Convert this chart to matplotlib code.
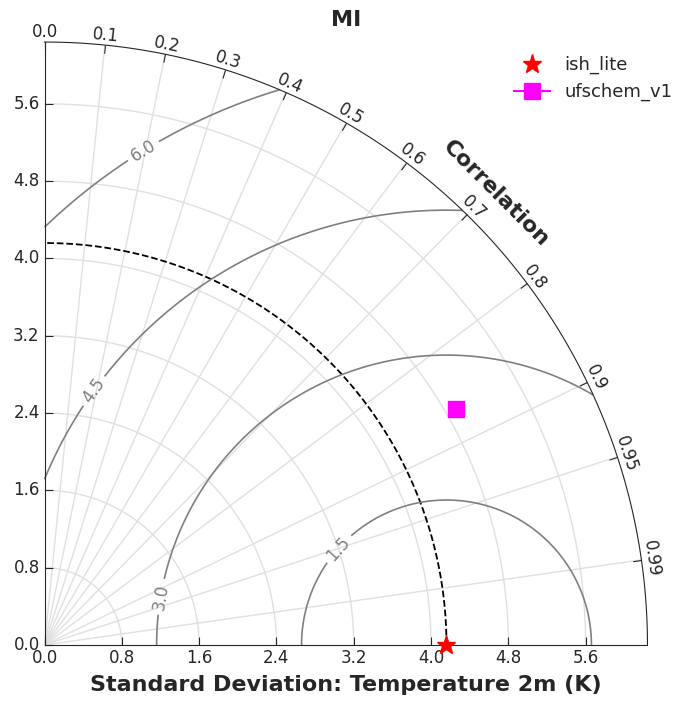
import numpy as np
import matplotlib.pyplot as plt
from matplotlib.projections import PolarAxes
import mpl_toolkits.axisartist.floating_axes as FA
import mpl_toolkits.axisartist.grid_finder as GF

# data
ref_name = "ish_lite"
ref_std = 4.16
model_names = ["ufschem_v1"]
model_std = [4.91]
model_corr = [0.868]
rms_levels = [1.5, 3.0, 4.5, 6.0]
corr_ticks = [0.0, 0.1, 0.2, 0.3, 0.4, 0.5, 0.6, 0.7, 0.8, 0.9, 0.95, 0.99]
std_ticks = [0.0, 0.8, 1.6, 2.4, 3.2, 4.0, 4.8, 5.6]
# (correlation, std) where the rms contour labels sit
rms_label_pos = [(0.197, 5.21), (0.189, 2.68), (0.925, 1.31), (0.950, 3.20)]

txt = '#262626'
smax = 1.5 * ref_std

tr = PolarAxes.PolarTransform(apply_theta_transforms=False)
tlocs = np.arccos(corr_ticks)
gl1 = GF.FixedLocator(tlocs)
tf1 = GF.DictFormatter(dict(zip(tlocs, [str(c) for c in corr_ticks])))
gl2 = GF.FixedLocator(std_ticks)
tf2 = GF.DictFormatter({s: "%.1f" % s for s in std_ticks})
ghelper = FA.GridHelperCurveLinear(tr, extremes=(0, np.pi / 2, 0, smax),
                                   grid_locator1=gl1, tick_formatter1=tf1,
                                   grid_locator2=gl2, tick_formatter2=tf2)

fig = plt.figure(figsize=(6.89, 7.08), dpi=100)
# floating axes pads its limits by 2%, so the rect is a bit bigger than the plot
ax = fig.add_axes([38 / 689, 57 / 708, 616 / 689, 615 / 708],
                  axes_class=FA.FloatingAxes, grid_helper=ghelper)

# correlation arc
ax.axis["top"].set_axis_direction("bottom")
ax.axis["top"].toggle(ticklabels=True, label=True)
ax.axis["top"].major_ticklabels.set_axis_direction("top")
ax.axis["top"].label.set_axis_direction("top")
ax.axis["top"].label.set_text("Correlation")
# std along x
ax.axis["left"].set_axis_direction("bottom")
ax.axis["left"].label.set_text("Standard Deviation: Temperature 2m (K)")
ax.axis["left"].label.set_pad(9)
# std along y
ax.axis["right"].set_axis_direction("top")
ax.axis["right"].toggle(ticklabels=True)
ax.axis["right"].major_ticklabels.set_axis_direction("left")
ax.axis["bottom"].set_visible(False)

for k in ["top", "left", "right"]:
    ax.axis[k].major_ticklabels.set_fontsize(12)
    ax.axis[k].major_ticklabels.set_color(txt)
    ax.axis[k].label.set_fontsize(16)
    ax.axis[k].label.set_fontweight('bold')
    ax.axis[k].label.set_color(txt)
    ax.axis[k].line.set_color(txt)
    ax.axis[k].major_ticks.set_color(txt)
    ax.axis[k].major_ticks.set_ticksize(6)

ax.grid(color='0.88', lw=1)

pax = ax.get_aux_axes(tr)

# reference std circle
t = np.linspace(0, np.pi / 2, 200)
pax.plot(t, np.full_like(t, ref_std), 'k--', lw=1.3)

# rms contours
rs, ts = np.meshgrid(np.linspace(0, smax, 300), np.linspace(0, np.pi / 2, 300))
rms = np.sqrt(ref_std**2 + rs**2 - 2 * ref_std * rs * np.cos(ts))
cs = pax.contour(ts, rs, rms, rms_levels, colors='0.5', linewidths=1.2)
pax.clabel(cs, inline=True, fontsize=12, fmt='%.1f',
           manual=[(np.arccos(c), s) for c, s in rms_label_pos])

h1, = pax.plot([0], [ref_std], color='red', marker='*', ls='', ms=14,
               label=ref_name, clip_on=False, zorder=10)
h2, = pax.plot(np.arccos(model_corr), model_std, color='magenta', marker='s',
               ms=11, ls='-', label=model_names[0], zorder=10)

fig.legend([h1, h2], [ref_name, model_names[0]], loc='upper right',
           bbox_to_anchor=(1.0, 0.944), frameon=False, fontsize=13,
           numpoints=1, labelcolor=txt)

fig.text(346 / 689, 1 - 20 / 708, "MI", ha='center', va='center',
         fontsize=16, fontweight='bold', color=txt)

fig.savefig('out.png', dpi=100)
